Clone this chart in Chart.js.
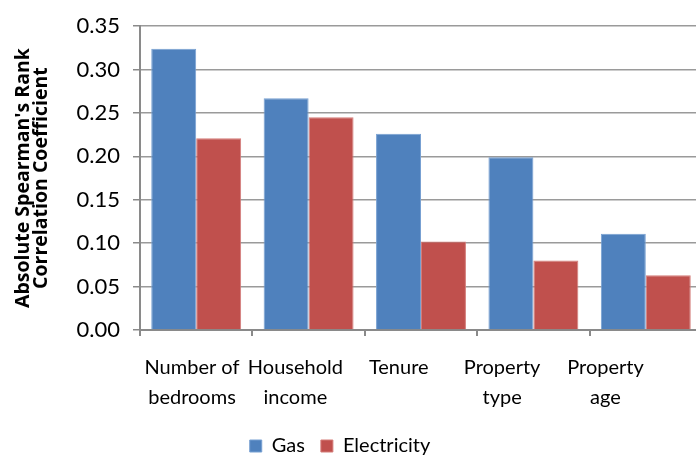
<!DOCTYPE html>
<html>
<head>
<meta charset="utf-8">
<script src="https://cdn.jsdelivr.net/npm/chart.js@4.4.1/dist/chart.umd.min.js"></script>
<style>
  html, body { margin: 0; padding: 0; background: #fff; overflow: hidden; }
  #wrap { width: 696px; height: 461px; overflow: hidden; position: relative; }
  canvas { display: block; }
</style>
</head>
<body>
<div id="wrap"><canvas id="chart" width="702" height="461"></canvas></div>
<script>
// Household characteristics and their rank correlation with energy use
const categories = [
  ['Number of', 'bedrooms'],
  ['Household', 'income'],
  ['Tenure'],
  ['Property', 'type'],
  ['Property', 'age']
];
const gasValues = [0.324, 0.267, 0.226, 0.199, 0.111];
const electricityValues = [0.221, 0.245, 0.102, 0.080, 0.063];
const yTickValues = [0, 0.05, 0.10, 0.15, 0.20, 0.25, 0.30, 0.35];
const yTickLabels = ['0.00', '0.05', '0.10', '0.15', '0.20', '0.25', '0.30', '0.35'];
const seriesNames = ['Gas', 'Electricity'];
const yTitle = ["Absolute Spearman's Rank", 'Correlation Coefficient'];

// nudges the centred legend row a little to the left
const legendShift = {
  id: 'legendShift',
  afterLayout(chart) {
    if (chart.legend) {
      chart.legend.left -= 11;
      chart.legend.right -= 11;
    }
  }
};

function draw() {
  Chart.defaults.color = '#000';
  Chart.defaults.font.family = 'Lato, "Liberation Sans", sans-serif';

  new Chart(document.getElementById('chart'), {
    type: 'bar',
    data: {
      labels: categories.map(c => c.join(' ')),
      datasets: [
        {
          label: seriesNames[0],
          data: gasValues,
          backgroundColor: '#4F81BD',
          borderColor: '#77A0D2',
          borderWidth: 1,
          xAxisID: 'x'
        },
        {
          label: seriesNames[1],
          data: electricityValues,
          backgroundColor: '#C0504D',
          borderColor: '#D47C79',
          borderWidth: 1,
          xAxisID: 'x'
        }
      ]
    },
    options: {
      responsive: false,
      animation: false,
      datasets: { bar: { categoryPercentage: 0.8, barPercentage: 1.0 } },
      layout: { padding: { top: 21, right: 0, bottom: 0, left: 0 } },
      plugins: {
        tooltip: { enabled: false },
        legend: {
          position: 'bottom',
          maxHeight: 41,
          labels: {
            boxWidth: 12,
            boxHeight: 12,
            padding: 16,
            color: '#000',
            font: { size: 20 }
          }
        }
      },
      scales: {
        y: {
          min: 0,
          max: 0.35,
          afterBuildTicks: s => { s.ticks = yTickValues.map(v => ({ value: v })); },
          afterFit: s => { s.width = 140; },
          ticks: {
            padding: 13,
            font: { size: 22 },
            color: '#000',
            callback: (v, i) => yTickLabels[i]
          },
          grid: {
            color: '#9a9a9a',
            lineWidth: 1.5,
            tickLength: 7,
            tickColor: '#8a8a8a'
          },
          border: { display: true, color: '#8a8a8a', width: 2 },
          title: {
            display: true,
            text: yTitle,
            color: '#000',
            font: { family: '"Open Sans", sans-serif', size: 19.5, weight: 'bold', lineHeight: 0.9 },
            padding: { top: 15, bottom: 0 }
          }
        },
        x: {
          type: 'category',
          weight: 0,
          afterFit: s => { s.height = 6; },
          ticks: { display: false },
          grid: {
            display: true,
            offset: true,
            drawOnChartArea: false,
            drawTicks: true,
            tickLength: 6,
            color: '#8a8a8a',
            lineWidth: 2
          },
          border: { display: true, color: '#8a8a8a', width: 2 }
        },
        // text row for the category names under the axis
        xl: {
          type: 'linear',
          position: 'bottom',
          weight: 1,
          offset: false,
          bounds: 'data',
          min: -0.503,
          max: 4.9336,
          afterBuildTicks: s => { s.ticks = categories.map((c, i) => ({ value: i })); },
          afterFit: s => { s.height = 84; },
          ticks: {
            autoSkip: false,
            maxRotation: 0,
            minRotation: 0,
            padding: 17,
            color: '#000',
            font: { size: 20, lineHeight: 1.5 },
            callback: (v) => categories[v]
          },
          grid: { display: false, offset: false, drawTicks: false, tickLength: 0 },
          border: { display: false }
        }
      }
    },
    plugins: [legendShift]
  });
}

const fontsReady = document.fonts
  ? Promise.all([
      document.fonts.load('20px Lato'),
      document.fonts.load('bold 18px "Open Sans"')
    ]).catch(() => {})
  : Promise.resolve();
fontsReady.then(draw);
</script>
</body>
</html>
